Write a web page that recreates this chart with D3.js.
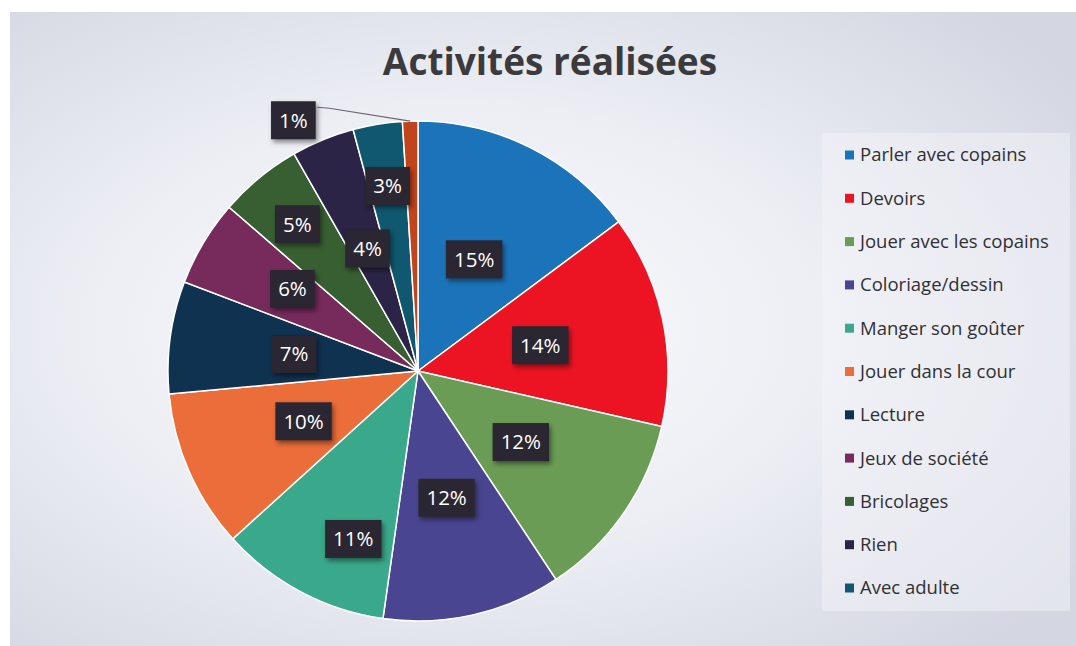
<!DOCTYPE html>
<html>
<head>
<meta charset="utf-8">
<script src="https://cdn.jsdelivr.net/npm/d3@7"></script>
<style>
  html, body { margin: 0; padding: 0; background: #ffffff; }
  svg { display: block; font-family: "Open Sans", Lato, sans-serif; }
</style>
</head>
<body>
<div id="chart"></div>
<script>
// data
const categories = [
    'Parler avec copains', 'Devoirs', 'Jouer avec les copains', 'Coloriage/dessin',
    'Manger son goûter', 'Jouer dans la cour', 'Lecture', 'Jeux de société',
    'Bricolages', 'Rien', 'Avec adulte', 'Autre'
];
const values = [14.9, 13.8, 12.2, 11.6, 11.1, 10.3, 7.3, 5.6, 5.4, 4.1, 3.2, 1.0];
const colors = [
    '#1b74b9', '#ec1422', '#6b9c55', '#4a4590', '#3aa88a', '#eb6d3a',
    '#0f3251', '#772a5c', '#385f32', '#2b2446', '#0f5870', '#c2441c'
];
// the last slice is not shown in the legend (cut off in the original)
const legendCount = 11;

// label distance from centre, as a share of the radius (best-fit style)
const labelRadius = [0.5, 0.5, 0.5, 0.52, 0.72, 0.5, 0.5, 0.6, 0.76, 0.53, 0.75, 1.12];
// small angle shifts (radians) where the labels were nudged
const labelShift = [0, 0, 0, 0, -0.12, 0, 0, 0.04, 0, 0, 0, -0.43];

const width = 1076, height = 646;
const cx = 418, cy = 371, R = 250;

const svg = d3.select('#chart')
    .append('svg')
    .attr('width', width)
    .attr('height', height);

const defs = svg.append('defs');
const bg = defs.append('radialGradient')
    .attr('id', 'bg')
    .attr('cx', '42%').attr('cy', '50%').attr('r', '70%');
bg.append('stop').attr('offset', '0%').attr('stop-color', '#fafbfd');
bg.append('stop').attr('offset', '50%').attr('stop-color', '#eceef4');
bg.append('stop').attr('offset', '100%').attr('stop-color', '#d4d7e2');

const shadow = defs.append('filter').attr('id', 'shadow')
    .attr('x', '-30%').attr('y', '-30%').attr('width', '160%').attr('height', '160%');
shadow.append('feDropShadow')
    .attr('dx', 2).attr('dy', 3).attr('stdDeviation', 2.5)
    .attr('flood-color', '#000').attr('flood-opacity', 0.45);

// background of the slide
svg.append('rect')
    .attr('x', 10).attr('y', 12)
    .attr('width', width - 10).attr('height', height - 12)
    .attr('fill', 'url(#bg)');

// lighter legend panel
svg.append('rect')
    .attr('x', 822).attr('y', 133)
    .attr('width', 248).attr('height', 478)
    .attr('fill', '#f6f7fa')
    .attr('opacity', 0.45);

// title
svg.append('text')
    .attr('x', 550).attr('y', 75)
    .attr('text-anchor', 'middle')
    .style('font-size', '37px')
    .style('font-weight', 'bold')
    .style('fill', '#3b3b3d')
    .text('Activités réalisées');

const data = categories.map((c, i) => ({ name: c, value: values[i], color: colors[i] }));
const total = d3.sum(values);

const pie = d3.pie().sort(null).value(d => d.value);
const arcs = pie(data);
const arc = d3.arc().innerRadius(0).outerRadius(R);

const g = svg.append('g').attr('transform', `translate(${cx}, ${cy})`);

g.selectAll('path.slice')
    .data(arcs)
    .enter()
    .append('path')
    .attr('class', 'slice')
    .attr('d', arc)
    .attr('fill', d => d.data.color)
    .attr('stroke', '#ffffff')
    .attr('stroke-width', 1.5)
    .attr('stroke-linejoin', 'round');

// where each label goes
const labelPos = (d, i) => {
    const a = (d.startAngle + d.endAngle) / 2 + labelShift[i];
    const r = R * labelRadius[i];
    return [Math.sin(a) * r, -Math.cos(a) * r];
};

// leader line for the last (1%) slice
const last = arcs[arcs.length - 1];
const lastMid = (last.startAngle + last.endAngle) / 2;
const lp = labelPos(last, arcs.length - 1);
g.append('polyline')
    .attr('points', [
        [lp[0] + 24, lp[1] - 13],
        [lp[0] + 36, lp[1] - 12],
        [Math.sin(lastMid) * R, -Math.cos(lastMid) * R]
    ].map(p => p.join(',')).join(' '))
    .attr('fill', 'none')
    .attr('stroke', '#6b6670')
    .attr('stroke-width', 1.2);

const labels = g.selectAll('g.label')
    .data(arcs)
    .enter()
    .append('g')
    .attr('class', 'label')
    .attr('transform', (d, i) => `translate(${labelPos(d, i)})`);

labels.append('rect').attr('class', 'box');
labels.append('text')
    .attr('text-anchor', 'middle')
    .attr('dy', '0.36em')
    .style('font-size', '20.5px')
    .style('font-weight', 500)
    .style('fill', '#ffffff')
    .text(d => Math.round(d.data.value / total * 100) + '%');

labels.each(function() {
    const el = d3.select(this);
    const bb = el.select('text').node().getBBox();
    el.select('rect')
        .attr('x', -bb.width / 2 - 8)
        .attr('y', -19)
        .attr('width', bb.width + 16)
        .attr('height', 38)
        .attr('fill', '#2a2531')
        .attr('filter', 'url(#shadow)');
});

// legend
const legend = svg.selectAll('g.legend')
    .data(data.slice(0, legendCount))
    .enter()
    .append('g')
    .attr('class', 'legend')
    .attr('transform', (d, i) => `translate(845, ${155 + i * 43.3})`);

legend.append('rect')
    .attr('x', 0).attr('y', -4.5)
    .attr('width', 9).attr('height', 9)
    .attr('fill', d => d.color);

legend.append('text')
    .attr('x', 15)
    .attr('dy', '0.35em')
    .style('font-size', '18.5px')
    .style('fill', '#303033')
    .text(d => d.name);
</script>
</body>
</html>
